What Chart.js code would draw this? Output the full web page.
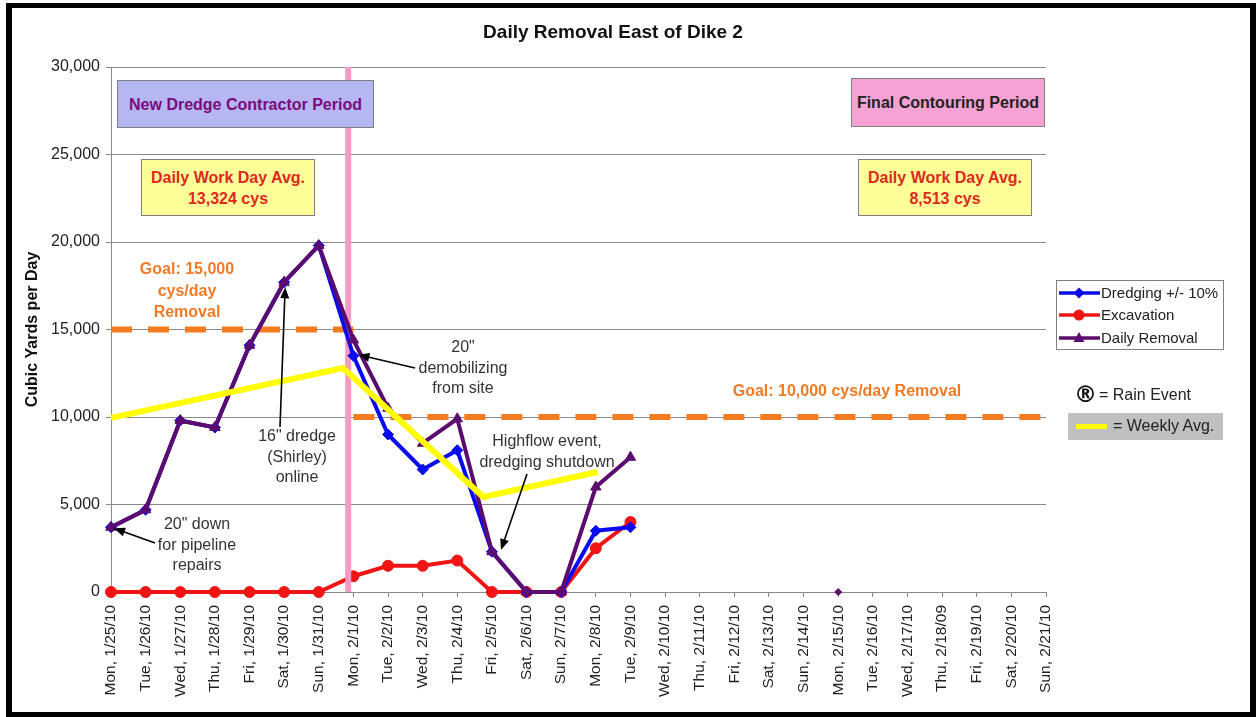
<!DOCTYPE html>
<html>
<head>
<meta charset="utf-8">
<title>Daily Removal East of Dike 2</title>
<script src="https://cdn.jsdelivr.net/npm/chart.js@4.4.1/dist/chart.umd.min.js"></script>
<style>
  body { margin: 0; background: #fff; font-family: 'Liberation Sans', Arial, sans-serif; }
  #wrap { position: relative; width: 1260px; height: 717px; overflow: hidden; background: #fff; }
  #c { position: absolute; left: 0; top: 0; }
  #frame { position: absolute; left: 6px; top: 3px; width: 1250px; height: 714px; box-sizing: border-box;
           border: solid #000; border-width: 5px 6px 5px 6px; pointer-events: none; }
  .txt { position: absolute; white-space: nowrap; text-align: center; transform: translateX(-50%);
         font-size: 16px; line-height: 20.5px; color: #333; }
  .goal { color: #f07a26; font-weight: bold; line-height: 21.5px; }
  .box { position: absolute; box-sizing: border-box; border: 1px solid #7f7f7f; display: flex;
         align-items: center; justify-content: center; text-align: center; font-weight: bold;
         font-size: 16px; line-height: 21px; }
  .avg { background: #ffff99; color: #dc2a1c; }
  #title { position: absolute; left: 613px; top: 21px; transform: translateX(-50%); font-weight: bold;
           font-size: 19px; color: #111; white-space: nowrap; }
  #legend { position: absolute; left: 1056px; top: 280px; width: 168px; height: 70px; box-sizing: border-box;
            border: 1px solid #808080; }
  .leg { position: absolute; left: 1101px; font-size: 15px; color: #222; white-space: nowrap; line-height: 18px; }
</style>
</head>
<body>
<div id="wrap">
  <canvas id="c" width="1260" height="717"></canvas>
  <div id="legend"></div>
  <div id="title">Daily Removal East of Dike 2</div>

  <div class="box" style="left:117px;top:80px;width:257px;height:48px;background:#b6b6f2;color:#7a0a7a;">New Dredge Contractor Period</div>
  <div class="box avg" style="left:141px;top:159px;width:174px;height:57px;">Daily Work Day Avg.<br>13,324 cys</div>
  <div class="box" style="left:851px;top:78px;width:194px;height:49px;background:#f6a2d4;color:#222;">Final Contouring Period</div>
  <div class="box avg" style="left:858px;top:159px;width:174px;height:57px;">Daily Work Day Avg.<br>8,513 cys</div>

  <div class="txt goal" style="left:187px;top:258px;">Goal: 15,000<br>cys/day<br>Removal</div>
  <div class="txt goal" style="left:847px;top:380px;">Goal: 10,000 cys/day Removal</div>

  <div class="txt" style="left:463px;top:337px;">20&quot;<br>demobilizing<br>from site</div>
  <div class="txt" style="left:297px;top:426px;">16&quot; dredge<br>(Shirley)<br>online</div>
  <div class="txt" style="left:197px;top:514px;">20&quot; down<br>for pipeline<br>repairs</div>
  <div class="txt" style="left:547px;top:431px;">Highflow event,<br>dredging shutdown</div>

  <div class="leg" style="top:284px;">Dredging +/- 10%</div>
  <div class="leg" style="top:306px;">Excavation</div>
  <div class="leg" style="top:329px;">Daily Removal</div>

  <div style="position:absolute;left:1074px;top:381px;font-size:23px;font-weight:bold;color:#111;font-family:'DejaVu Sans',sans-serif;">&reg;</div>
  <div style="position:absolute;left:1099px;top:386px;font-size:16px;color:#222;white-space:nowrap;">= Rain Event</div>
  <div style="position:absolute;left:1068px;top:413px;width:155px;height:27px;background:#c0c0c0;"></div>
  <div style="position:absolute;left:1076px;top:424px;width:31px;height:5px;background:#ffff00;"></div>
  <div style="position:absolute;left:1113px;top:417px;font-size:16px;color:#222;white-space:nowrap;">= Weekly Avg.</div>

  <div id="frame"></div>
</div>

<script>
// --- data ---
const dayLabels = [
  'Mon, 1/25/10', 'Tue, 1/26/10', 'Wed, 1/27/10', 'Thu, 1/28/10', 'Fri, 1/29/10', 'Sat, 1/30/10', 'Sun, 1/31/10',
  'Mon, 2/1/10', 'Tue, 2/2/10', 'Wed, 2/3/10', 'Thu, 2/4/10', 'Fri, 2/5/10', 'Sat, 2/6/10', 'Sun, 2/7/10',
  'Mon, 2/8/10', 'Tue, 2/9/10', 'Wed, 2/10/10', 'Thu, 2/11/10', 'Fri, 2/12/10', 'Sat, 2/13/10', 'Sun, 2/14/10',
  'Mon, 2/15/10', 'Tue, 2/16/10', 'Wed, 2/17/10', 'Thu, 2/18/09', 'Fri, 2/19/10', 'Sat, 2/20/10', 'Sun, 2/21/10'
];

const dredging   = [3700, 4700, 9800, 9400, 14100, 17700, 19800, 13500, 9000, 7000, 8100, 2300, 0, 0, 3500, 3700];
const excavation = [0, 0, 0, 0, 0, 0, 0, 900, 1500, 1500, 1800, 0, 0, 0, 2500, 4000];
const removal    = [3700, 4700, 9800, 9400, 14100, 17700, 19800, 14400, 10500, 8500, 9900, 2300, 0, 0, 6000, 7700];

// weekly average, plotted at fractional day positions
const weeklyPos = [0, 6.7, 10.75, 14.05];
const weeklyAvg = [9950, 12800, 5430, 6860];

// goals: 15,000 for the first week, 10,000 after
const goalValues = [15000, 10000];
const goalFrom   = [0, 7];
const goalTo     = [7, 27];

const periodChange = 6.85;   // boundary between the two periods
const rainDays = [21];       // stray marker at Mon 2/15

const COLORS = {
  blue: '#0a0af0',
  red: '#f01414',
  purple: '#5c0c6e',
  yellow: '#ffff00',
  orange: '#f47b20',
  pink: '#f49ac6',
  grid: '#8a8a8a'
};

const toPoints = arr => arr.map((v, i) => ({ x: i, y: v }));

function arrow(ctx, x1, y1, x2, y2) {
  const a = Math.atan2(y2 - y1, x2 - x1);
  const len = 11, hw = 4.5;
  ctx.save();
  ctx.strokeStyle = '#000';
  ctx.fillStyle = '#000';
  ctx.lineWidth = 1.6;
  ctx.beginPath();
  ctx.moveTo(x1, y1);
  ctx.lineTo(x2 - Math.cos(a) * len * 0.8, y2 - Math.sin(a) * len * 0.8);
  ctx.stroke();
  ctx.beginPath();
  ctx.moveTo(x2, y2);
  ctx.lineTo(x2 - Math.cos(a) * len - Math.sin(a) * hw, y2 - Math.sin(a) * len + Math.cos(a) * hw);
  ctx.lineTo(x2 - Math.cos(a) * len + Math.sin(a) * hw, y2 - Math.sin(a) * len - Math.cos(a) * hw);
  ctx.closePath();
  ctx.fill();
  ctx.restore();
}

function marker(ctx, style, x, y, color) {
  ctx.save();
  ctx.fillStyle = color;
  ctx.beginPath();
  if (style === 'circle') {
    ctx.arc(x, y, 5.5, 0, Math.PI * 2);
  } else if (style === 'rectRot') {
    ctx.moveTo(x, y - 5.5); ctx.lineTo(x + 5.5, y); ctx.lineTo(x, y + 5.5); ctx.lineTo(x - 5.5, y);
  } else {
    ctx.moveTo(x, y - 6); ctx.lineTo(x + 5.5, y + 4); ctx.lineTo(x - 5.5, y + 4);
  }
  ctx.closePath();
  ctx.fill();
  ctx.restore();
}

const overlay = {
  id: 'overlay',
  afterDraw(chart) {
    const ctx = chart.ctx;
    const xs = chart.scales.x, ys = chart.scales.y;
    const px = (i) => xs.getPixelForValue(i);
    const py = (v) => ys.getPixelForValue(v);

    // annotation arrows
    arrow(ctx, 415, 368, px(7) + 5, py(dredging[7]) - 1);
    arrow(ctx, 280, 427, px(5) + 1, py(removal[5]) + 5);
    arrow(ctx, 155, 543, px(0) + 3, py(removal[0]) + 1);
    arrow(ctx, 527, 474, 501, 550);

    // legend samples
    const rows = [
      { y: 293, c: COLORS.blue, s: 'rectRot' },
      { y: 315, c: COLORS.red, s: 'circle' },
      { y: 338, c: COLORS.purple, s: 'triangle' }
    ];
    rows.forEach(r => {
      ctx.save();
      ctx.strokeStyle = r.c;
      ctx.lineWidth = 3.5;
      ctx.beginPath();
      ctx.moveTo(1059, r.y);
      ctx.lineTo(1100, r.y);
      ctx.stroke();
      ctx.restore();
      marker(ctx, r.s, 1079, r.y, r.c);
    });
  }
};

const datasets = [
  {
    label: 'Weekly Avg.', order: 1,
    data: weeklyPos.map((x, i) => ({ x: x, y: weeklyAvg[i] })),
    borderColor: COLORS.yellow, borderWidth: 6, pointRadius: 0
  },
  {
    label: 'Daily Removal', order: 2,
    data: toPoints(removal),
    borderColor: COLORS.purple, backgroundColor: COLORS.purple, borderWidth: 4,
    pointStyle: 'triangle', pointRadius: 6, pointBorderWidth: 1
  },
  {
    label: 'Dredging +/- 10%', order: 3,
    data: toPoints(dredging),
    borderColor: COLORS.blue, backgroundColor: COLORS.blue, borderWidth: 4,
    pointStyle: 'rectRot', pointRadius: 5.5, pointBorderWidth: 1
  },
  {
    label: 'period', order: 4,
    data: [{ x: periodChange, y: 0 }, { x: periodChange, y: 30000 }],
    borderColor: COLORS.pink, borderWidth: 6, pointRadius: 0
  },
  {
    label: 'Excavation', order: 5,
    data: toPoints(excavation),
    borderColor: COLORS.red, backgroundColor: COLORS.red, borderWidth: 4,
    pointStyle: 'circle', pointRadius: 5.5, pointBorderWidth: 1
  },
  {
    label: 'Rain', order: 0,
    data: rainDays.map(d => ({ x: d, y: 0 })),
    showLine: false, borderColor: COLORS.purple, backgroundColor: COLORS.purple,
    pointStyle: 'rectRot', pointRadius: 3.5
  }
];

goalValues.forEach((g, i) => {
  datasets.push({
    label: 'goal' + i, order: 6,
    data: [{ x: goalFrom[i], y: g }, { x: goalTo[i], y: g }],
    borderColor: COLORS.orange, borderWidth: 6, borderDash: [21, 16], pointRadius: 0
  });
});

datasets.forEach(d => { d.clip = false; d.tension = 0; });

Chart.defaults.font.family = "'Liberation Sans', Arial, sans-serif";

new Chart(document.getElementById('c'), {
  type: 'line',
  data: { datasets: datasets },
  options: {
    responsive: false,
    animation: false,
    events: [],
    layout: { padding: { left: 0, top: 67, right: 214, bottom: 0 } },
    plugins: {
      legend: { display: false },
      tooltip: { enabled: false },
      title: { display: false }
    },
    scales: {
      x: {
        type: 'linear',
        min: 0,
        max: 27,
        afterFit: s => { s.height = 125; },
        grid: { drawOnChartArea: false, color: COLORS.grid, tickLength: 5 },
        border: { color: COLORS.grid },
        ticks: {
          stepSize: 1,
          maxTicksLimit: 30,
          autoSkip: false,
          maxRotation: 90,
          minRotation: 90,
          padding: 8,
          color: '#222',
          font: { size: 15.5 },
          callback: v => Number.isInteger(v) ? dayLabels[v] : ''
        }
      },
      y: {
        min: 0,
        max: 30000,
        afterFit: s => { s.width = 111; },
        grid: { color: COLORS.grid, tickLength: 5 },
        border: { color: COLORS.grid },
        ticks: {
          stepSize: 5000,
          padding: 6,
          color: '#222',
          font: { size: 16 },
          callback: v => v.toLocaleString('en-US')
        },
        title: {
          display: true,
          text: 'Cubic Yards per Day',
          color: '#111',
          font: { size: 16, weight: 'bold' },
          padding: { top: 23, bottom: 0 }
        }
      }
    }
  },
  plugins: [overlay]
});
</script>
</body>
</html>
